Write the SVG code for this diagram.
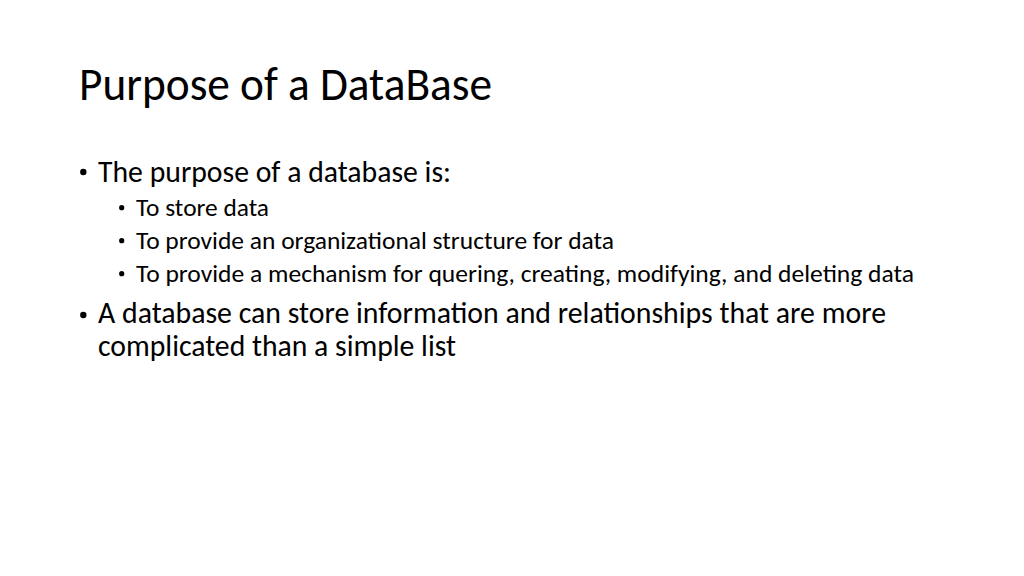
<svg xmlns="http://www.w3.org/2000/svg" width="1024" height="576" viewBox="0 0 1024 576">
<style>
text{font-family:Carlito,"Liberation Sans","Noto Sans",sans-serif;fill:#000}
.t{font-size:47px}
.b1{font-size:30px}
.b2{font-size:23.5px}
.dot{fill:#000}
</style>
<rect width="1024" height="576" fill="#fff"/>
<g id="title"><text class="t" x="79" y="100" textLength="413" lengthAdjust="spacingAndGlyphs">Purpose of a DataBase</text></g>
<g id="bullet1">
<circle class="dot" cx="83.3" cy="172" r="3.2"/>
<text class="b1" x="98" y="182" textLength="353" lengthAdjust="spacingAndGlyphs">The purpose of a database is:</text>
</g>
<g id="sub1">
<circle class="dot" cx="121.7" cy="207.7" r="2.6"/>
<text class="b2" x="136" y="215.5" textLength="133" lengthAdjust="spacingAndGlyphs">To store data</text>
</g>
<g id="sub2">
<circle class="dot" cx="121.7" cy="240.7" r="2.6"/>
<text class="b2" x="136" y="248.5" textLength="478" lengthAdjust="spacingAndGlyphs">To provide an organizational structure for data</text>
</g>
<g id="sub3">
<circle class="dot" cx="121.7" cy="273.7" r="2.6"/>
<text class="b2" x="136" y="281.5" textLength="778" lengthAdjust="spacingAndGlyphs">To provide a mechanism for quering, creating, modifying, and deleting data</text>
</g>
<g id="bullet2">
<circle class="dot" cx="83.3" cy="315" r="3.2"/>
<text class="b1"><tspan x="98" y="323" textLength="788" lengthAdjust="spacingAndGlyphs">A database can store information and relationships that are more</tspan><tspan x="98" y="355.5" textLength="358" lengthAdjust="spacingAndGlyphs">complicated than a simple list</tspan></text>
</g>
</svg>
